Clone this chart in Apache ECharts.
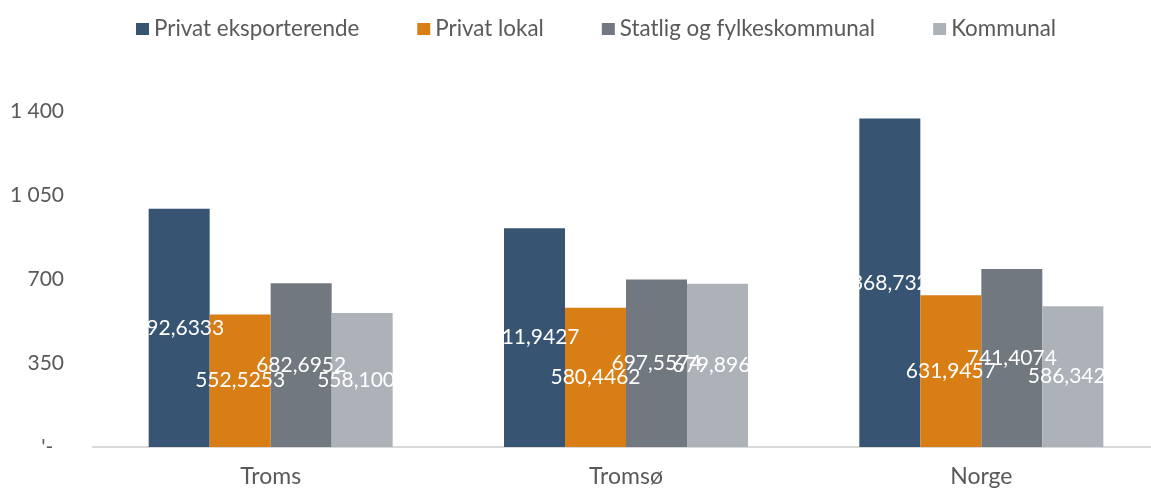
<!DOCTYPE html>
<html>
<head>
<meta charset="utf-8">
<script src="https://cdn.jsdelivr.net/npm/echarts@6/dist/echarts.min.js"></script>
<style>
html,body{margin:0;padding:0;background:#fff;overflow:hidden;}
#c{width:1162px;height:488px;}
</style>
</head>
<body>
<div id="c"></div>
<script>
var categories = ['Troms', 'Tromsø', 'Norge'];
var seriesNames = ['Privat eksporterende', 'Privat lokal', 'Statlig og fylkeskommunal', 'Kommunal'];
var privatEksport = [992.6333, 911.9427, 1368.7328];
var privatLokal = [552.5253, 580.4462, 631.9457];
var statlig = [682.6952, 697.5574, 741.4074];
var kommunal = [558.1004, 679.8963, 586.3421];
var yTicks = [0, 350, 700, 1050, 1400];
var colors = ['#375572', '#D97D15', '#71787F', '#ACB2B8'];

var values = [privatEksport, privatLokal, statlig, kommunal];
var chart = echarts.init(document.getElementById('c'));
var font = 'Lato, "Open Sans", sans-serif';

function fmtTick(v) {
  if (v === 0) return "'-  ";
  var s = String(v);
  if (v >= 1000) s = s.slice(0, s.length - 3) + ' ' + s.slice(-3);
  return s;
}

chart.setOption({
  animation: false,
  color: colors,
  legend: {
    top: 13,
    left: 131,
    itemWidth: 13,
    itemHeight: 12,
    itemGap: 58,
    icon: 'rect',
    textStyle: { color: '#595959', fontSize: 22.4, fontFamily: font },
    data: seriesNames
  },
  grid: { left: 93, top: 111, bottom: 41, width: 1066, containLabel: false },
  xAxis: {
    type: 'category',
    data: categories,
    axisLine: { lineStyle: { color: '#D9D9D9', width: 2 } },
    axisTick: { show: false },
    axisLabel: { color: '#595959', fontSize: 23, fontFamily: font, margin: 18 }
  },
  yAxis: {
    type: 'value',
    min: yTicks[0],
    max: yTicks[yTicks.length - 1],
    interval: yTicks[1] - yTicks[0],
    splitLine: { show: false },
    axisLine: { show: false },
    axisTick: { show: false },
    axisLabel: { color: '#595959', fontSize: 21, fontFamily: font, margin: 29, formatter: fmtTick }
  },
  series: seriesNames.map(function (n, i) {
    return {
      name: n,
      type: 'bar',
      data: values[i],
      barWidth: 61,
      barGap: '0%',
      itemStyle: { color: colors[i] },
      label: {
        show: true,
        position: 'inside',
        color: '#ffffff',
        fontSize: 21,
        fontFamily: font,
        formatter: function (p) { return p.value.toFixed(4).replace('.', ','); }
      }
    };
  })
});
</script>
</body>
</html>
